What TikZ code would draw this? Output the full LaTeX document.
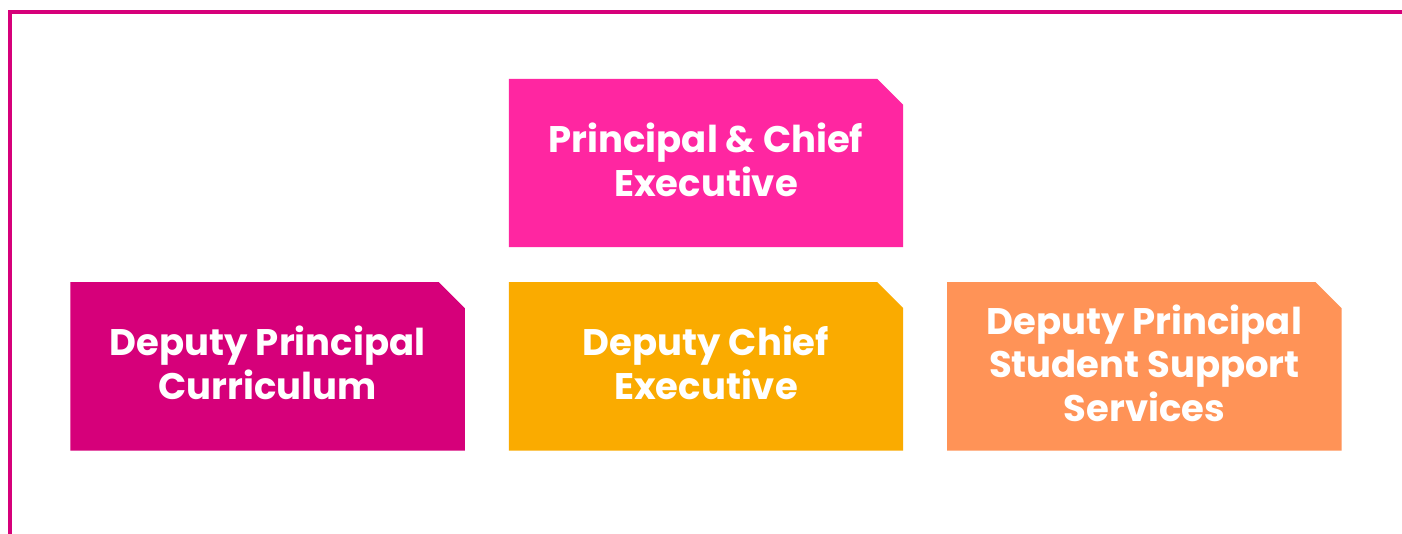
\documentclass[tikz,border=0pt]{standalone}
\usepackage{fontspec}
\setmainfont{Poppins}
\usepackage{tikz}
\usetikzlibrary{positioning, calc, backgrounds}
\definecolor{framepink}{RGB}{214,0,122}
\definecolor{hotpink}{RGB}{255,38,161}
\definecolor{deeppink}{RGB}{214,0,122}
\definecolor{amber}{RGB}{250,171,0}
\definecolor{peach}{RGB}{255,147,87}

\begin{document}
\begin{tikzpicture}[x=1pt, y=1pt,
  tab/.style={minimum width=394pt, minimum height=168pt, inner sep=0pt,
    text=white, align=center, text depth=7pt,
    font=\fontsize{37}{43.5}\selectfont\bfseries}]
  \useasboundingbox (0,0) rectangle (1402,534);
  % boxes
  \node[tab] (ceo) at (706,371) {Principal \& Chief\\Executive};
  \node[tab, below=35pt of ceo] (dce) {Deputy Chief\\Executive};
  \node[tab, left=44pt of dce] (dpc) {Deputy Principal\\Curriculum};
  \node[tab, right=44pt of dce] (dpss) {Deputy Principal\\Student Support\\Services};
  \begin{scope}[on background layer]
    \fill[white] (0,0) rectangle (1402,534);
    % frame
    \draw[framepink, line width=4pt] (1410,522) -- (10,522) -- (10,-10);
    % clipped-corner fills
    \foreach \n/\c in {ceo/hotpink, dce/amber, dpc/deeppink, dpss/peach}
      \fill[\c] (\n.south west) |- ([xshift=-26pt]\n.north east)
        -- ([yshift=-26pt]\n.north east) |- cycle;
  \end{scope}
\end{tikzpicture}
\end{document}
